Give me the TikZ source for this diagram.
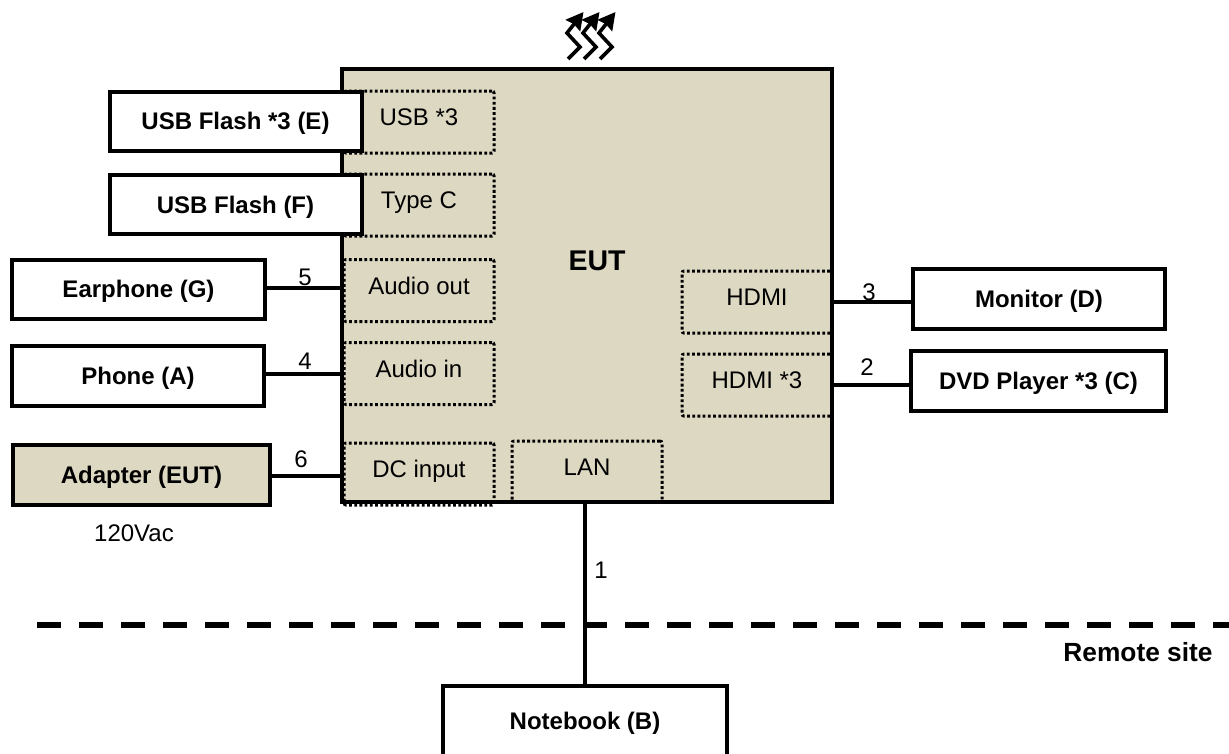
\documentclass[tikz,border=0pt]{standalone}
\usepackage{fontspec}
\setmainfont{Liberation Sans}
\usetikzlibrary{arrows.meta, positioning}
\definecolor{euttan}{HTML}{DDD8C2}
\tikzset{
    devbox/.style={draw, line width=4pt, fill=white, inner sep=0pt, minimum width=252pt, minimum height=59pt,
        font=\fontsize{24}{28}\selectfont\bfseries, text height=17.2pt, text depth=0pt},
    portbox/.style={draw, line width=3pt, dash pattern=on 2.8pt off 2.4pt, rounded corners=2pt, inner sep=0pt,
        minimum width=150pt, minimum height=62pt,
        font=\fontsize{24}{28}\selectfont, text height=17.2pt, text depth=10.2pt},
    cable/.style={line width=4pt},
    plainlabel/.style={inner sep=0pt, font=\fontsize{24}{28}\selectfont},
}
\begin{document}
\begin{tikzpicture}[x=1pt, y=-1pt]
            \useasboundingbox (0,0) rectangle (1229,753);
            \node [draw, line width=4pt, fill=euttan, inner sep=0pt, minimum width=490pt, minimum height=433pt] (eut) at (587,285.5) {};
            \node [plainlabel, font=\fontsize{28.5}{32}\selectfont\bfseries] (euttitle) at (597,261) {EUT};
            \node [portbox] (usbport) at (419,122) {USB *3};
            \node [portbox] (typecport) at (419,205) {Type C};
            \node [portbox] (audiooutport) at (419,290.5) {Audio out};
            \node [portbox] (audioinport) at (419,373.5) {Audio in};
            \node [portbox] (dcport) at (419,474) {DC input};
            \node [portbox, minimum height=61pt] (lanport) at (587,471.5) {LAN};
            \node [portbox] (hdmiport) at (757,302) {HDMI};
            \node [portbox] (hdmitriport) at (757,385) {HDMI *3};
            \node [devbox] (usbflashe) at (235.5,121) {USB Flash *3 (E)};
            \node [devbox] (usbflashf) at (235.5,204.5) {USB Flash (F)};
            \node [devbox, minimum width=253pt] (earphone) at (138.5,289) {Earphone (G)};
            \node [devbox, minimum height=60pt] (phone) at (138,375.5) {Phone (A)};
            \node [devbox, fill=euttan, minimum width=257pt, minimum height=60pt] (adapter) at (141.5,474.5) {Adapter (EUT)};
            \node [devbox, minimum height=60pt] (monitor) at (1039,299) {Monitor (D)};
            \node [devbox, minimum width=255pt, minimum height=60pt] (dvdplayer) at (1038.5,381) {DVD Player *3 (C)};
            \node [devbox, minimum width=284pt, minimum height=70pt] (notebook) at (585,721) {Notebook (B)};
            \draw [cable] (earphone.east |- 0,288) -- (eut.west |- 0,288);
            \draw [cable] (audioinport.west) -- (audioinport.west -| phone.east);
            \draw [cable] (dcport.west |- 0,476) -- (adapter.east |- 0,476);
            \draw [cable] (hdmiport.east) -- (hdmiport.east -| monitor.west);
            \draw [cable] (hdmitriport.east) -- (hdmitriport.east -| dvdplayer.west);
            \draw [cable] (eut.south -| notebook.north) -- (notebook.north);
            \coordinate (siteleft) at (37,625);
            \coordinate (siteright) at (1229,625);
            \draw [line width=6.5pt, dash pattern=on 24pt off 18pt] (siteleft) -- (siteright);
            \node [plainlabel] (cablefive) at (305,277) {5};
            \node [plainlabel] (cablefour) at (305,361) {4};
            \node [plainlabel] (cablesix) at (301,459) {6};
            \node [plainlabel] (cablethree) at (869,292) {3};
            \node [plainlabel] (cabletwo) at (867,367) {2};
            \node [plainlabel] (cableone) at (601,570) {1};
            \node [plainlabel] (mainsvolt) at (134,533) {120Vac};
            \node [plainlabel, font=\fontsize{26.3}{30}\selectfont\bfseries] (remotesite) at (1138,652) {Remote site};
            \foreach \dx in {0,16,32} {
                \draw [line width=3.6pt, -{Stealth[length=17pt, width=18pt, inset=1.5pt]}]
                    (568+\dx,59) -- (580+\dx,47) -- (567+\dx,33) -- (583.5+\dx,12);
            }
        \end{tikzpicture}
\end{document}
